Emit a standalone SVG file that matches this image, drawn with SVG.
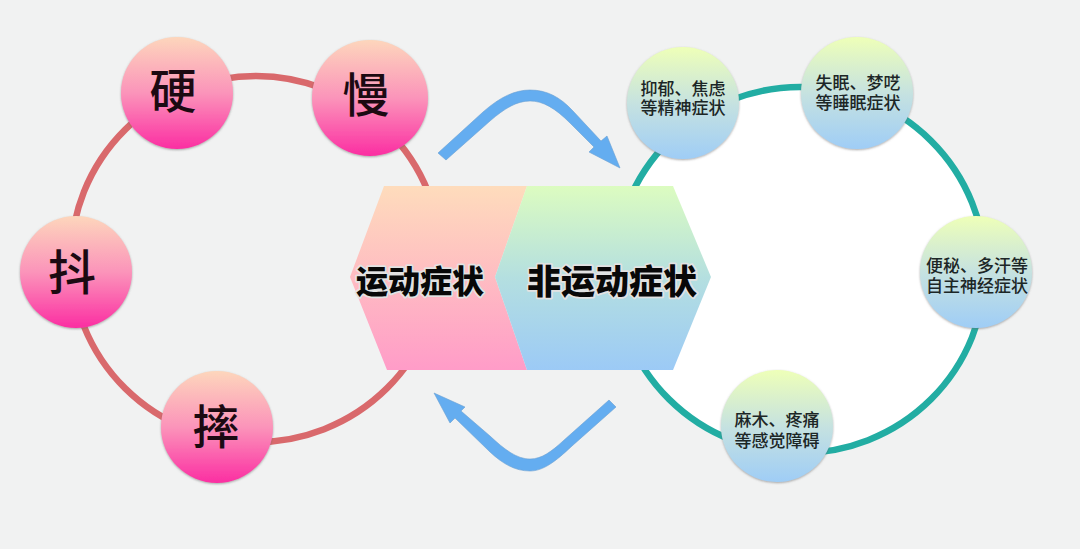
<svg xmlns="http://www.w3.org/2000/svg" width="1080" height="549" viewBox="0 0 1080 549">
<style>
text{font-family:"Noto Sans CJK SC","Noto Sans",sans-serif;text-anchor:middle;fill:#161616}
.big{font-size:47px;font-weight:500;fill:#1c0a12}
.small{font-size:17px;font-weight:500;fill:#1c2626}
.title{font-size:32px;font-weight:900;fill:#080808;stroke:#e2e2e2;stroke-width:3.5px;paint-order:stroke;stroke-linejoin:round}
.pink{fill:url(#pinkBall);filter:url(#sh)}
.pale{fill:url(#paleBall);filter:url(#sh)}
.arrow{fill:#64adf0;stroke:#6a9fd2;stroke-width:.6}
</style>
<defs>
<linearGradient id="pinkBall" x1="0" y1="0" x2="0" y2="1"><stop offset="0" stop-color="#fdd6bc"/><stop offset=".5" stop-color="#fb94ba"/><stop offset="1" stop-color="#fb2ea2"/></linearGradient>
<linearGradient id="paleBall" x1="0" y1="0" x2="0" y2="1"><stop offset="0" stop-color="#eeffb8"/><stop offset=".5" stop-color="#c6e2e0"/><stop offset="1" stop-color="#9fcdf6"/></linearGradient>
<linearGradient id="hexL" x1="0" y1="0" x2="0" y2="1"><stop offset="0" stop-color="#fedcbc"/><stop offset="1" stop-color="#ff9cc8"/></linearGradient>
<linearGradient id="hexR" x1="0" y1="0" x2="0" y2="1"><stop offset="0" stop-color="#dcfcc0"/><stop offset=".5" stop-color="#b4dfe0"/><stop offset="1" stop-color="#9ccaf6"/></linearGradient>
<filter id="sh" x="-10%" y="-10%" width="120%" height="120%"><feDropShadow dx="0" dy="1" stdDeviation="1" flood-color="#666" flood-opacity=".55"/></filter>
</defs>
<rect width="1080" height="549" fill="#f1f2f2"/>
<g id="connectors">
<ellipse cx="256" cy="259" rx="185" ry="183" fill="none" stroke="#d9696c" stroke-width="6.5"/>
<ellipse cx="800" cy="270" rx="185" ry="183" fill="#fff" stroke="#22ada3" stroke-width="6.5"/>
<path class="arrow" d="M438 153L483 112C500 97 515 90 530 90C547 90 560 97 573 111L601 141L607 136L620 168L589 152L594 147L570 123C555 108 543 101 530 101C517 101 505 108 490 121L446 160Z"/>
<path class="arrow" d="M616 407L572 446C555 462 543 471 530 471C515 471 503 464 490 452L455 418L450 423L434 393L465 407L461 411L490 436C505 450 517 459 530 459C542 459 552 451 563 441L609 400Z"/>
</g>
<g id="hexagon">
<path fill="url(#hexL)" d="M384 186H527L495 277L527 370H387L350 277Z"/>
<path fill="url(#hexR)" d="M527 186H673L711 277L673 370H527L495 277Z"/>
<text class="title" x="420" y="293">运动症状</text>
<text class="title" x="612" y="294" style="font-size:34px">非运动症状</text>
</g>
<g id="node-ying"><circle class="pink" cx="177" cy="93" r="56"/><text class="big" x="173" y="108">硬</text></g>
<g id="node-man"><circle class="pink" cx="370" cy="98" r="58"/><text class="big" x="366" y="112">慢</text></g>
<g id="node-dou"><circle class="pink" cx="76" cy="272" r="56"/><text class="big" x="72" y="290" style="font-size:48px">抖</text></g>
<g id="node-shuai"><circle class="pink" cx="217" cy="427" r="56"/><text class="big" x="216" y="444">摔</text></g>
<g id="node-mood"><circle class="pale" cx="683" cy="103" r="56"/><text class="small" x="683" y="95">抑郁、焦虑</text><text class="small" x="683" y="114">等精神症状</text></g>
<g id="node-sleep"><circle class="pale" cx="857" cy="93" r="56"/><text class="small" x="858" y="89">失眠、梦呓</text><text class="small" x="858" y="109">等睡眠症状</text></g>
<g id="node-auto"><circle class="pale" cx="976" cy="272" r="56"/><text class="small" x="977" y="272">便秘、多汗等</text><text class="small" x="977" y="292">自主神经症状</text></g>
<g id="node-sense"><circle class="pale" cx="777" cy="426" r="56"/><text class="small" x="777" y="426">麻木、疼痛</text><text class="small" x="777" y="447">等感觉障碍</text></g>
</svg>
